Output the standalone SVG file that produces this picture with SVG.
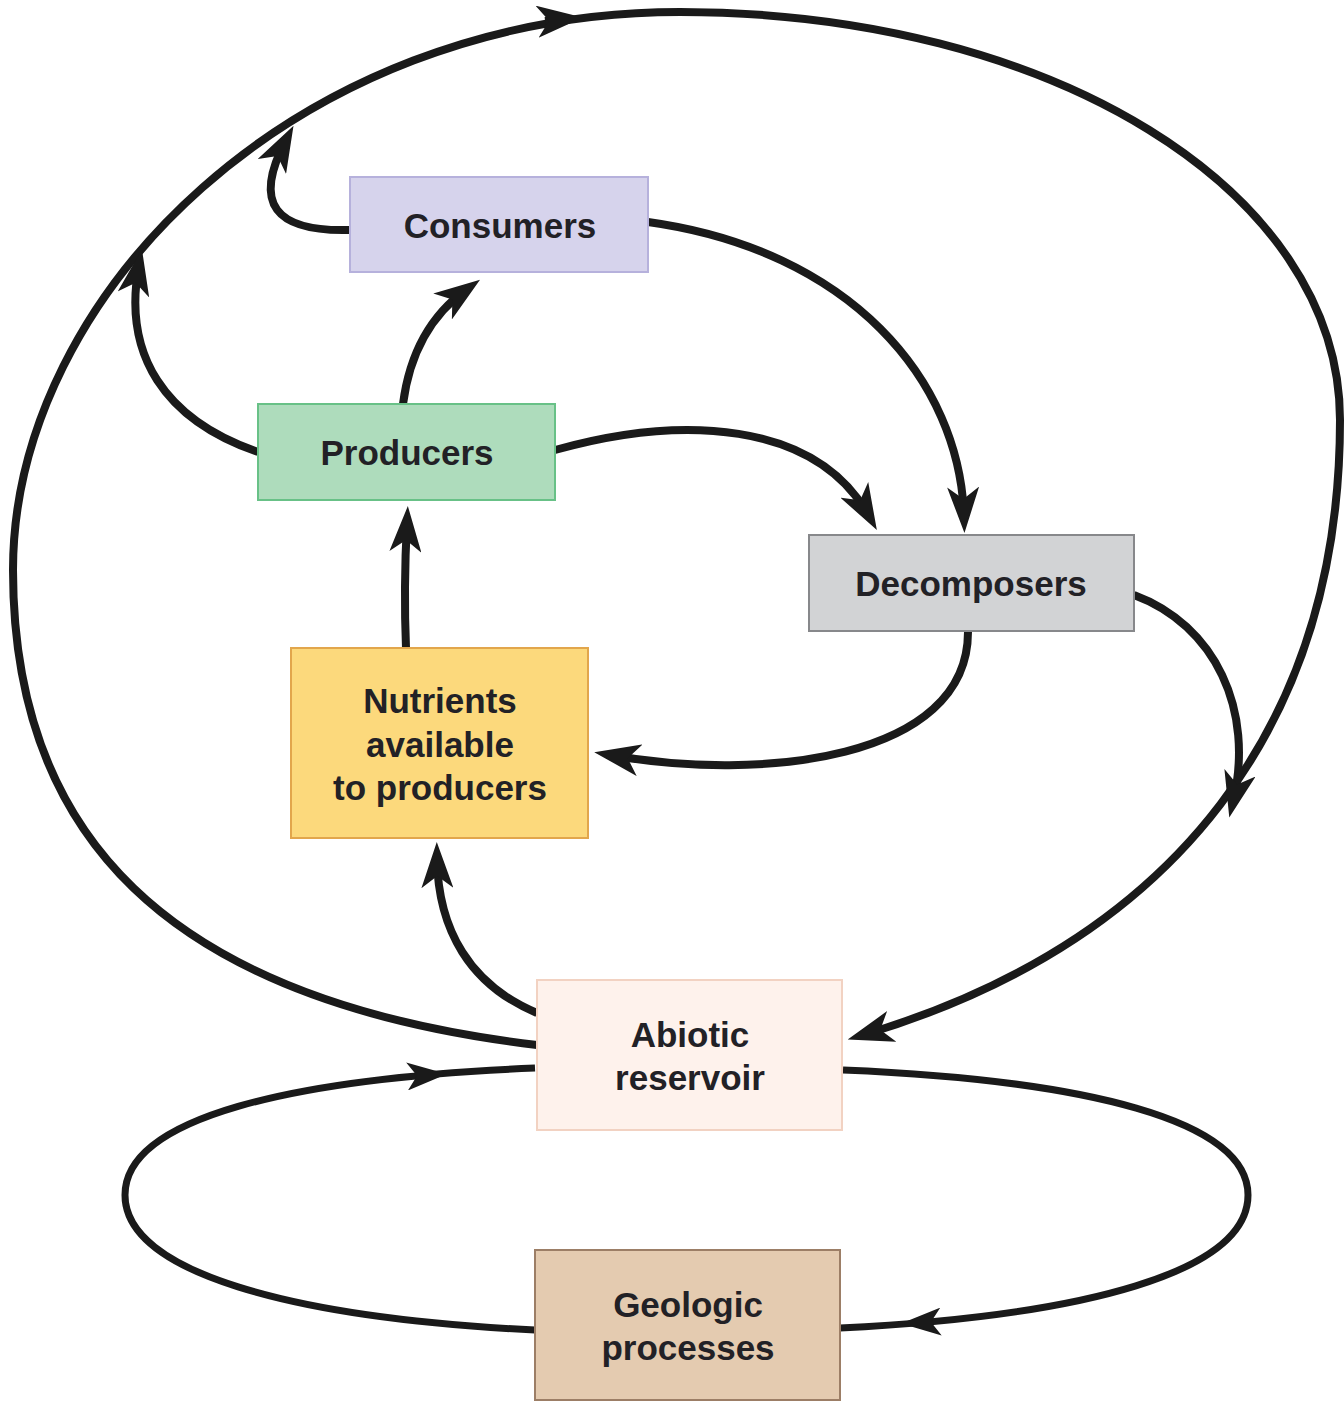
<svg xmlns="http://www.w3.org/2000/svg" width="1344" height="1402" viewBox="0 0 1344 1402">
  <defs>
    <style>
      .box { stroke-width: 2; }
      .lbl { font-family: "Liberation Sans", Arial, Helvetica, sans-serif; font-weight: bold; font-size: 35px; fill: #222126; text-anchor: middle; }
      .flow { fill: none; stroke: #1a1a1a; stroke-width: 8; }
      .thin { fill: none; stroke: #1a1a1a; stroke-width: 7; }
    </style>
    <marker id="arrow" markerUnits="userSpaceOnUse" markerWidth="46" markerHeight="32" viewBox="0 0 46 32" refX="30" refY="16" orient="auto">
      <path d="M0,0 L46,16 L0,32 L12,16 Z" fill="#1a1a1a"/>
    </marker>
    <marker id="arrow-sm" markerUnits="userSpaceOnUse" markerWidth="40" markerHeight="28" viewBox="0 0 40 28" refX="24" refY="14" orient="auto">
      <path d="M0,0 L40,14 L0,28 L10,14 Z" fill="#1a1a1a"/>
    </marker>
  </defs>

  <rect width="1344" height="1402" fill="#ffffff"/>

  <!-- connectors -->
  <g id="connectors">
    <!-- outer cycle: reservoir → around → reservoir -->
    <path class="flow" d="M 537 1045 C 160 1000, 13 830, 13 570 C 13 295, 295 12, 680 12 C 1050 12, 1340 190, 1340 420 C 1340 720, 1180 940, 863 1035" marker-end="url(#arrow)"/>
    <path class="flow" d="M 545 21 L 567 19" marker-end="url(#arrow)"/>

    <!-- consumers → outer cycle -->
    <path class="flow" d="M 350 230 C 275 232, 252 204, 286 140" marker-end="url(#arrow)"/>
    <!-- producers → outer cycle -->
    <path class="flow" d="M 258 452 C 165 420, 122 355, 139 265" marker-end="url(#arrow)"/>
    <!-- producers → consumers -->
    <path class="flow" d="M 403 404 C 410 350, 432 314, 467 289" marker-end="url(#arrow)"/>
    <!-- producers → decomposers -->
    <path class="flow" d="M 555 450 C 680 415, 815 420, 869 516" marker-end="url(#arrow)"/>
    <!-- consumers → decomposers -->
    <path class="flow" d="M 648 222 C 850 250, 960 380, 964 517" marker-end="url(#arrow)"/>
    <!-- nutrients → producers -->
    <path class="flow" d="M 406 648 C 404 600, 405 560, 407 522" marker-end="url(#arrow)"/>
    <!-- decomposers → nutrients -->
    <path class="flow" d="M 968 632 C 968 760, 760 782, 610 755" marker-end="url(#arrow)"/>
    <!-- decomposers → outer cycle -->
    <path class="flow" d="M 1134 595 C 1215 625, 1255 710, 1233 802" marker-end="url(#arrow)"/>
    <!-- reservoir → nutrients -->
    <path class="flow" d="M 537 1013 C 470 985, 438 930, 437 858" marker-end="url(#arrow)"/>

    <!-- geologic loop -->
    <path class="thin" d="M 535 1330 C 290 1318, 125 1272, 125 1195 C 125 1118, 290 1078, 535 1068"/>
    <path class="thin" d="M 415 1076 L 431 1075" marker-end="url(#arrow-sm)"/>
    <path class="thin" d="M 843 1070 C 1085 1080, 1248 1120, 1248 1195 C 1248 1272, 1085 1316, 840 1328"/>
    <path class="thin" d="M 933 1322 L 917 1322.8" marker-end="url(#arrow-sm)"/>
  </g>

  <g id="consumers">
    <rect class="box" x="350" y="177" width="298" height="95" fill="#d6d3ec" stroke="#b6b1dc"/>
    <text class="lbl" x="500" y="238">Consumers</text>
  </g>

  <g id="producers">
    <rect class="box" x="258" y="404" width="297" height="96" fill="#aedcbc" stroke="#68c187"/>
    <text class="lbl" x="407" y="465">Producers</text>
  </g>

  <g id="decomposers">
    <rect class="box" x="809" y="535" width="325" height="96" fill="#d2d3d5" stroke="#87888b"/>
    <text class="lbl" x="971" y="596">Decomposers</text>
  </g>

  <g id="nutrients">
    <rect class="box" x="291" y="648" width="297" height="190" fill="#fcd97c" stroke="#e2a64c"/>
    <text class="lbl" x="440" y="713">Nutrients</text>
    <text class="lbl" x="440" y="757">available</text>
    <text class="lbl" x="440" y="800">to producers</text>
  </g>

  <g id="abiotic-reservoir">
    <rect class="box" x="537" y="980" width="305" height="150" fill="#fef2ec" stroke="#f2d2c2"/>
    <text class="lbl" x="690" y="1047">Abiotic</text>
    <text class="lbl" x="690" y="1090">reservoir</text>
  </g>

  <g id="geologic-processes">
    <rect class="box" x="535" y="1250" width="305" height="150" fill="#e4cbb0" stroke="#9c7e66"/>
    <text class="lbl" x="688" y="1317">Geologic</text>
    <text class="lbl" x="688" y="1360">processes</text>
  </g>
</svg>
